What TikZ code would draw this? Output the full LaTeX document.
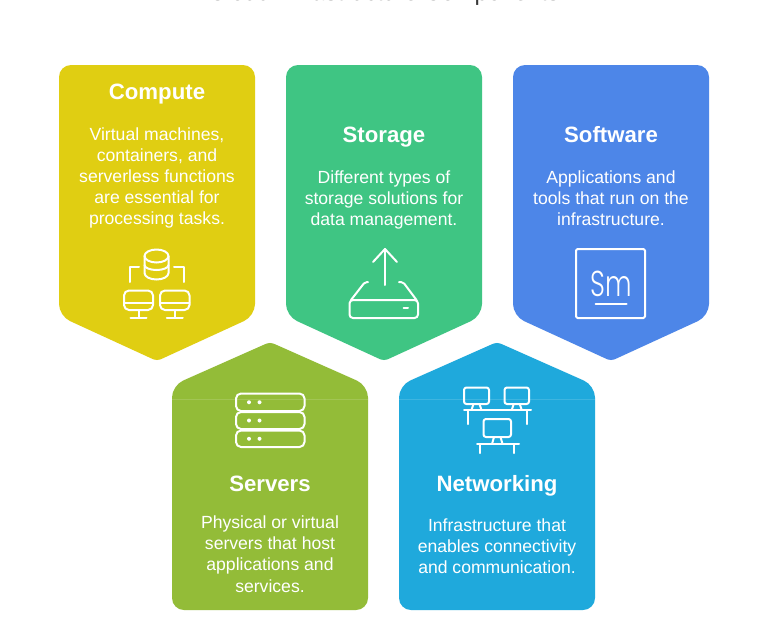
\documentclass[tikz,border=0pt]{standalone}
\usepackage{fontspec}
\setmainfont{Liberation Sans}
\newfontfamily\smfont{Poppins Light}
\definecolor{cyellow}{HTML}{E0CE12}
\definecolor{cgreen}{HTML}{3FC583}
\definecolor{cblue}{HTML}{4D86E8}
\definecolor{colive}{HTML}{93BC38}
\definecolor{ccyan}{HTML}{1FA9DC}
\tikzset{
  ttl/.style={text=white,font=\fontsize{22.2}{26}\selectfont\bfseries,anchor=base,inner sep=0pt},
  body/.style={text=white,font=\fontsize{17.6}{21.2}\selectfont,align=center,anchor=north,inner sep=0pt},
  ico/.style={draw=white,line width=2pt,line cap=round,line join=round},
}
\newcommand{\downcard}[2]{% centre x, colour
  \fill[#2,rounded corners=12pt] (#1,65) -- (#1+98,65) -- (#1+98,316) [rounded corners=4pt] -- (#1,361) [rounded corners=12pt] -- (#1-98,316) -- (#1-98,65) -- cycle;}
\newcommand{\upcard}[2]{%
  \fill[#2,rounded corners=12pt] (#1,610) -- (#1-98,610) -- (#1-98,385.5) [rounded corners=4pt] -- (#1,342) [rounded corners=12pt] -- (#1+98,385.5) -- (#1+98,610) -- cycle;
  \draw[white,opacity=.14,line width=.8pt] (#1-98,399.5) -- (#1+98,399.5);}
\begin{document}
\begin{tikzpicture}[x=1pt,y=-1pt]
\useasboundingbox (0,0) rectangle (768,619);
\clip (0,0) rectangle (768,619);
\fill[white] (0,0) rectangle (768,619);
\node[text=black!78,font=\fontsize{23.8}{26}\selectfont,anchor=base,inner sep=0pt] (title) at (384,0.5) {Cloud Infrastructure Components};
\downcard{157}{cyellow}
\downcard{384}{cgreen}
\downcard{611}{cblue}
\upcard{270}{colive}
\upcard{497}{ccyan}
\node[ttl] (t1) at (157,99) {Compute};
\node[body] (b1) at (157,125) {\strut Virtual machines,\\containers, and\\serverless functions\\are essential for\\processing tasks.};
\node[ttl] (t2) at (384,142) {Storage};
\node[body] (b2) at (384,168) {\strut Different types of\\storage solutions for\\data management.};
\node[ttl] (t3) at (611,142) {Software};
\node[body] (b3) at (611,168) {\strut Applications and\\tools that run on the\\infrastructure.};
\node[ttl] (t4) at (270,491) {Servers};
\node[body] (b4) at (270,513.5) {\strut Physical or virtual\\servers that host\\applications and\\services.};
\node[ttl] (t5) at (497,491) {Networking};
\node[body] (b5) at (497,516.5) {\strut Infrastructure that\\enables connectivity\\and communication.};
% compute icon
\begin{scope}[ico]
\draw (156.5,256) ellipse [x radius=12pt,y radius=6.5pt];
\draw (144.5,256) -- (144.5,273) arc[start angle=180,end angle=360,x radius=12pt,y radius=6.5pt] -- (168.5,256);
\draw (144.5,265) arc[start angle=180,end angle=360,x radius=12pt,y radius=5pt];
\draw (130,282) -- (130,267) -- (139,267);
\draw (174,267) -- (184,267) -- (184,282);
\foreach \l/\r in {124/153,160/189.5}{
  \draw[rounded corners=5pt] (\l,290.5) rectangle (\r,310);
  \draw (\l,303) -- (\r,303);
  \draw ({(\l+\r)/2},310) -- ({(\l+\r)/2},317);
  \draw ({(\l+\r)/2-8},317.5) -- ({(\l+\r)/2+8},317.5);
}
% storage icon
\draw (385,285) -- (385,249);
\draw (373,262) -- (385,249) -- (397,262);
\draw[rounded corners=3.5pt] (349.5,300) rectangle (418,318);
\draw[rounded corners=2pt] (351,300) -- (365,282) -- (368,282);
\draw[rounded corners=2pt] (416.5,300) -- (403,282) -- (399,282);
\draw (403.5,308) -- (408,308);
% software icon
\draw[rounded corners=1.5pt] (576,249) rectangle (645,318);
\draw (595.5,304) -- (626.5,304);
% servers icon
\foreach \a/\b in {393.5/411,412/429,430.5/447}{
  \draw[rounded corners=5pt] (236,\a) rectangle (304.5,\b);
  \fill[white,draw=none] (249,{(\a+\b)/2}) circle [radius=2pt];
  \fill[white,draw=none] (259.5,{(\a+\b)/2}) circle [radius=2pt];
}
% networking icon
\foreach \l/\r in {464/489,504.5/529}{
  \draw[rounded corners=2.5pt] (\l,387.5) rectangle (\r,404);
  \draw ({(\l+\r)/2-3},404) -- ({(\l+\r)/2-5},410);
  \draw ({(\l+\r)/2+3},404) -- ({(\l+\r)/2+5},410);
}
\draw (464,410) -- (531,410);
\draw (468,410) -- (468,424);
\draw (527,410) -- (527,424);
\draw[rounded corners=2.5pt] (483.5,419) rectangle (511,437);
\draw (494,437) -- (492,444);
\draw (500.5,437) -- (502.5,444);
\draw (477,444) -- (519,444);
\draw (480,444) -- (480,453);
\draw (514,444) -- (514,453);
\end{scope}
\node[text=white,font=\smfont\fontsize{36}{36}\selectfont,anchor=base,inner sep=0pt,xscale=.72] (sm) at (611.5,296) {Sm};
\end{tikzpicture}
\end{document}
